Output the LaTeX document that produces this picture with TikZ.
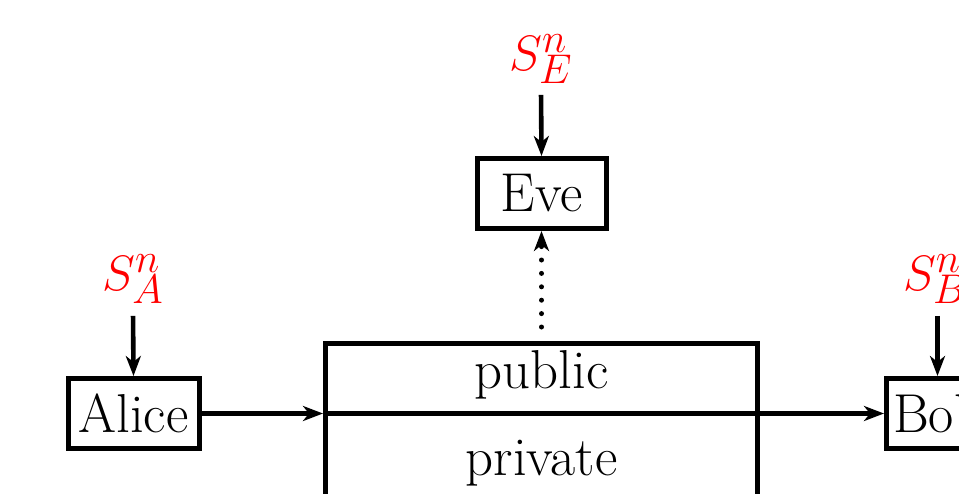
\documentclass[tikz,border=0pt]{standalone}
\usetikzlibrary{arrows.meta}
\begin{document}
\begin{tikzpicture}[x=0.5pt,y=-0.5pt,
  box/.style={draw,line width=2.5pt,inner sep=0pt,font=\fontsize{27.4}{32}\selectfont},
  lbl/.style={text=red,font=\fontsize{27.4}{32}\selectfont},
  txt/.style={font=\fontsize{27.4}{32}\selectfont,inner sep=0pt},
  arr/.style={line width=2.3pt,-{Stealth[length=10pt,width=7.5pt,inset=3pt]}},
  dotarr/.style={line width=2.5pt,line cap=round,dash pattern=on 0pt off 6.7pt,-{Stealth[length=10pt,width=7.5pt,inset=3pt]}}]
\clip (0,0) rectangle (959,493);
\node[box,minimum width=65.5pt,minimum height=35pt] (alice) at (133.5,413.5) {Alice};
\node[box,minimum width=64.5pt,minimum height=35pt] (eve) at (541.5,193.5) {Eve};
\node[box,minimum width=51pt,minimum height=35pt,anchor=west] (bob) at (884,413.5) {Bob};
\node[draw,line width=2.5pt,minimum width=216pt,minimum height=110pt,inner sep=0pt,anchor=north] (chan) at (541.5,341) {};
\node[txt] (pub) at (541.5,375) {public};
\node[txt] (priv) at (541.5,463) {private};
\node[lbl] (sa) at (133,279) {$S_A^n$};
\node[lbl] (se) at (541,59) {$S_E^n$};
\node[lbl] (sb) at (935,279) {$S_B^n$};
\draw[arr,shorten <=2.5pt] (sa.south) -- (alice.north);
\draw[arr,shorten <=2pt] (se.south) -- (eve.north);
\draw[arr,shorten <=2.5pt] (sa.south -| bob.north) -- (bob.north);
\coordinate (cin) at (alice.east -| chan.west);
\draw[arr] (alice.east) -- (cin);
\draw[arr] (cin) -- (bob.west);
\coordinate (dstart) at (541.5,327);
\draw[dotarr] (dstart) -- (eve.south);
\end{tikzpicture}
\end{document}
